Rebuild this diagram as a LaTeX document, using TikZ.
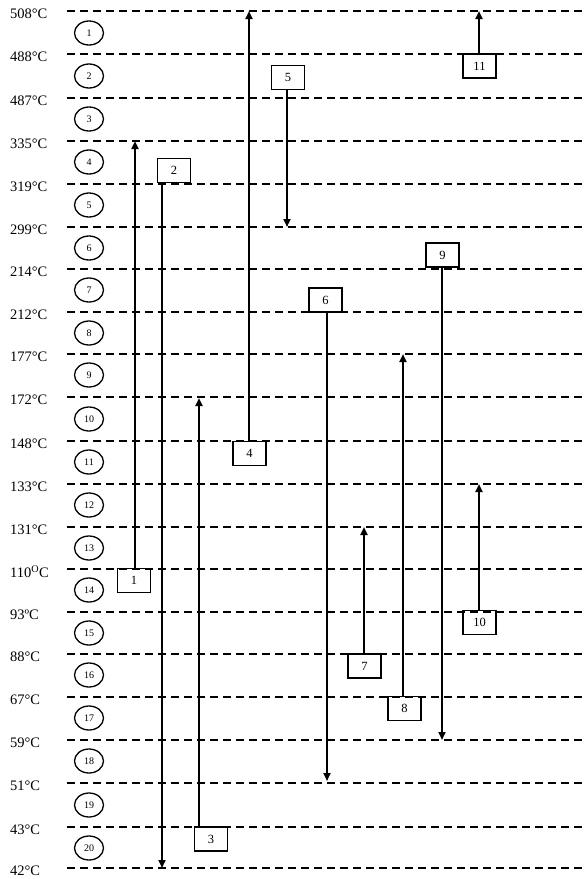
\documentclass[tikz,border=0pt]{standalone}
\usepackage{fontspec}
\setmainfont{Liberation Serif}
\usetikzlibrary{arrows.meta,shapes.geometric}
\begin{document}
\begin{tikzpicture}[x=1pt,y=-1pt,
  templine/.style={line width=2pt,dash pattern=on 8pt off 5pt},
  templabel/.style={anchor=west,inner sep=0pt,font=\fontsize{14.5}{16}\selectfont},
  zonecirc/.style={draw,ellipse,line width=1.3pt,minimum width=29pt,minimum height=24pt,inner sep=0pt,font=\fontsize{10}{11}\selectfont},
  streambox/.style={draw,rectangle,line width=1.2pt,minimum width=33pt,minimum height=24pt,inner sep=0pt,font=\fontsize{12.5}{14}\selectfont},
  stream/.style={line width=2pt,-{Triangle[length=8pt,width=7pt]}}
]
\useasboundingbox (0,0) rectangle (584,879);
\fill[white] (0,0) rectangle (584,879);
% temperature levels
\foreach \i/\yy/\txt in {0/11/508°C,1/54/488°C,2/98/487°C,3/141/335°C,4/184/319°C,5/227/299°C,6/269/214°C,7/312/212°C,8/354/177°C,9/397/172°C,10/441/148°C,11/484/133°C,12/527/131°C,13/569/110\textsuperscript{O}C,14/612/93ºC,15/654/88°C,16/697/67°C,17/740/59°C,18/783/51°C,19/827/43°C,20/868/42°C}{
  \node[templabel] (t\i) at (10,\yy+3) {\txt};
  \coordinate (l\i) at (67,\yy);
  \coordinate (r\i) at (584,\yy);
  \draw[templine] (l\i) -- (r\i);
}
% zone circles
\foreach \i/\yy in {1/33,2/76,3/119,4/162,5/205,6/248,7/290,8/333,9/375,10/419,11/462,12/505,13/548,14/590,15/633,16/675,17/718,18/761,19/805,20/848}{
  \node[zonecirc] (z\i) at (89,\yy) {\i};
}
% stream boxes
\node[streambox] (b1) at (134,580.5) {1};
\node[streambox] (b2) at (174,170.5) {2};
\node[streambox] (b3) at (211,839) {3};
\node[streambox] (b4) at (249.5,453.5) {4};
\node[streambox] (b5) at (288,77.5) {5};
\node[streambox] (b6) at (325.5,300) {6};
\node[streambox] (b7) at (364.5,666) {7};
\node[streambox] (b8) at (404.5,708.5) {8};
\node[streambox] (b9) at (442.5,255) {9};
\node[streambox] (b10) at (479.5,622.5) {10};
\node[streambox] (b11) at (479.5,66) {11};
% arrow end points
\coordinate (e1) at (135,141);
\coordinate (e2) at (162,868);
\coordinate (e3) at (199,398);
\coordinate (e4) at (249,11);
\coordinate (e5) at (287,227);
\coordinate (e6) at (327,781);
\coordinate (e7) at (364,527);
\coordinate (e8) at (403,354);
\coordinate (e9) at (442,740);
\coordinate (e10) at (479,484);
\coordinate (e11) at (479,11);
% streams
\draw[stream] (b1.north -| e1) -- (e1);
\draw[stream] (b2.south -| e2) -- (e2);
\draw[stream] (b3.north -| e3) -- (e3);
\draw[stream] (b4.north -| e4) -- (e4);
\draw[stream] (b5.south -| e5) -- (e5);
\draw[stream] (b6.south -| e6) -- (e6);
\draw[stream] (b7.north -| e7) -- (e7);
\draw[stream] (b8.north -| e8) -- (e8);
\draw[stream] (b9.south -| e9) -- (e9);
\draw[stream] (b10.north -| e10) -- (e10);
\draw[stream] (b11.north -| e11) -- (e11);
\end{tikzpicture}
\end{document}
